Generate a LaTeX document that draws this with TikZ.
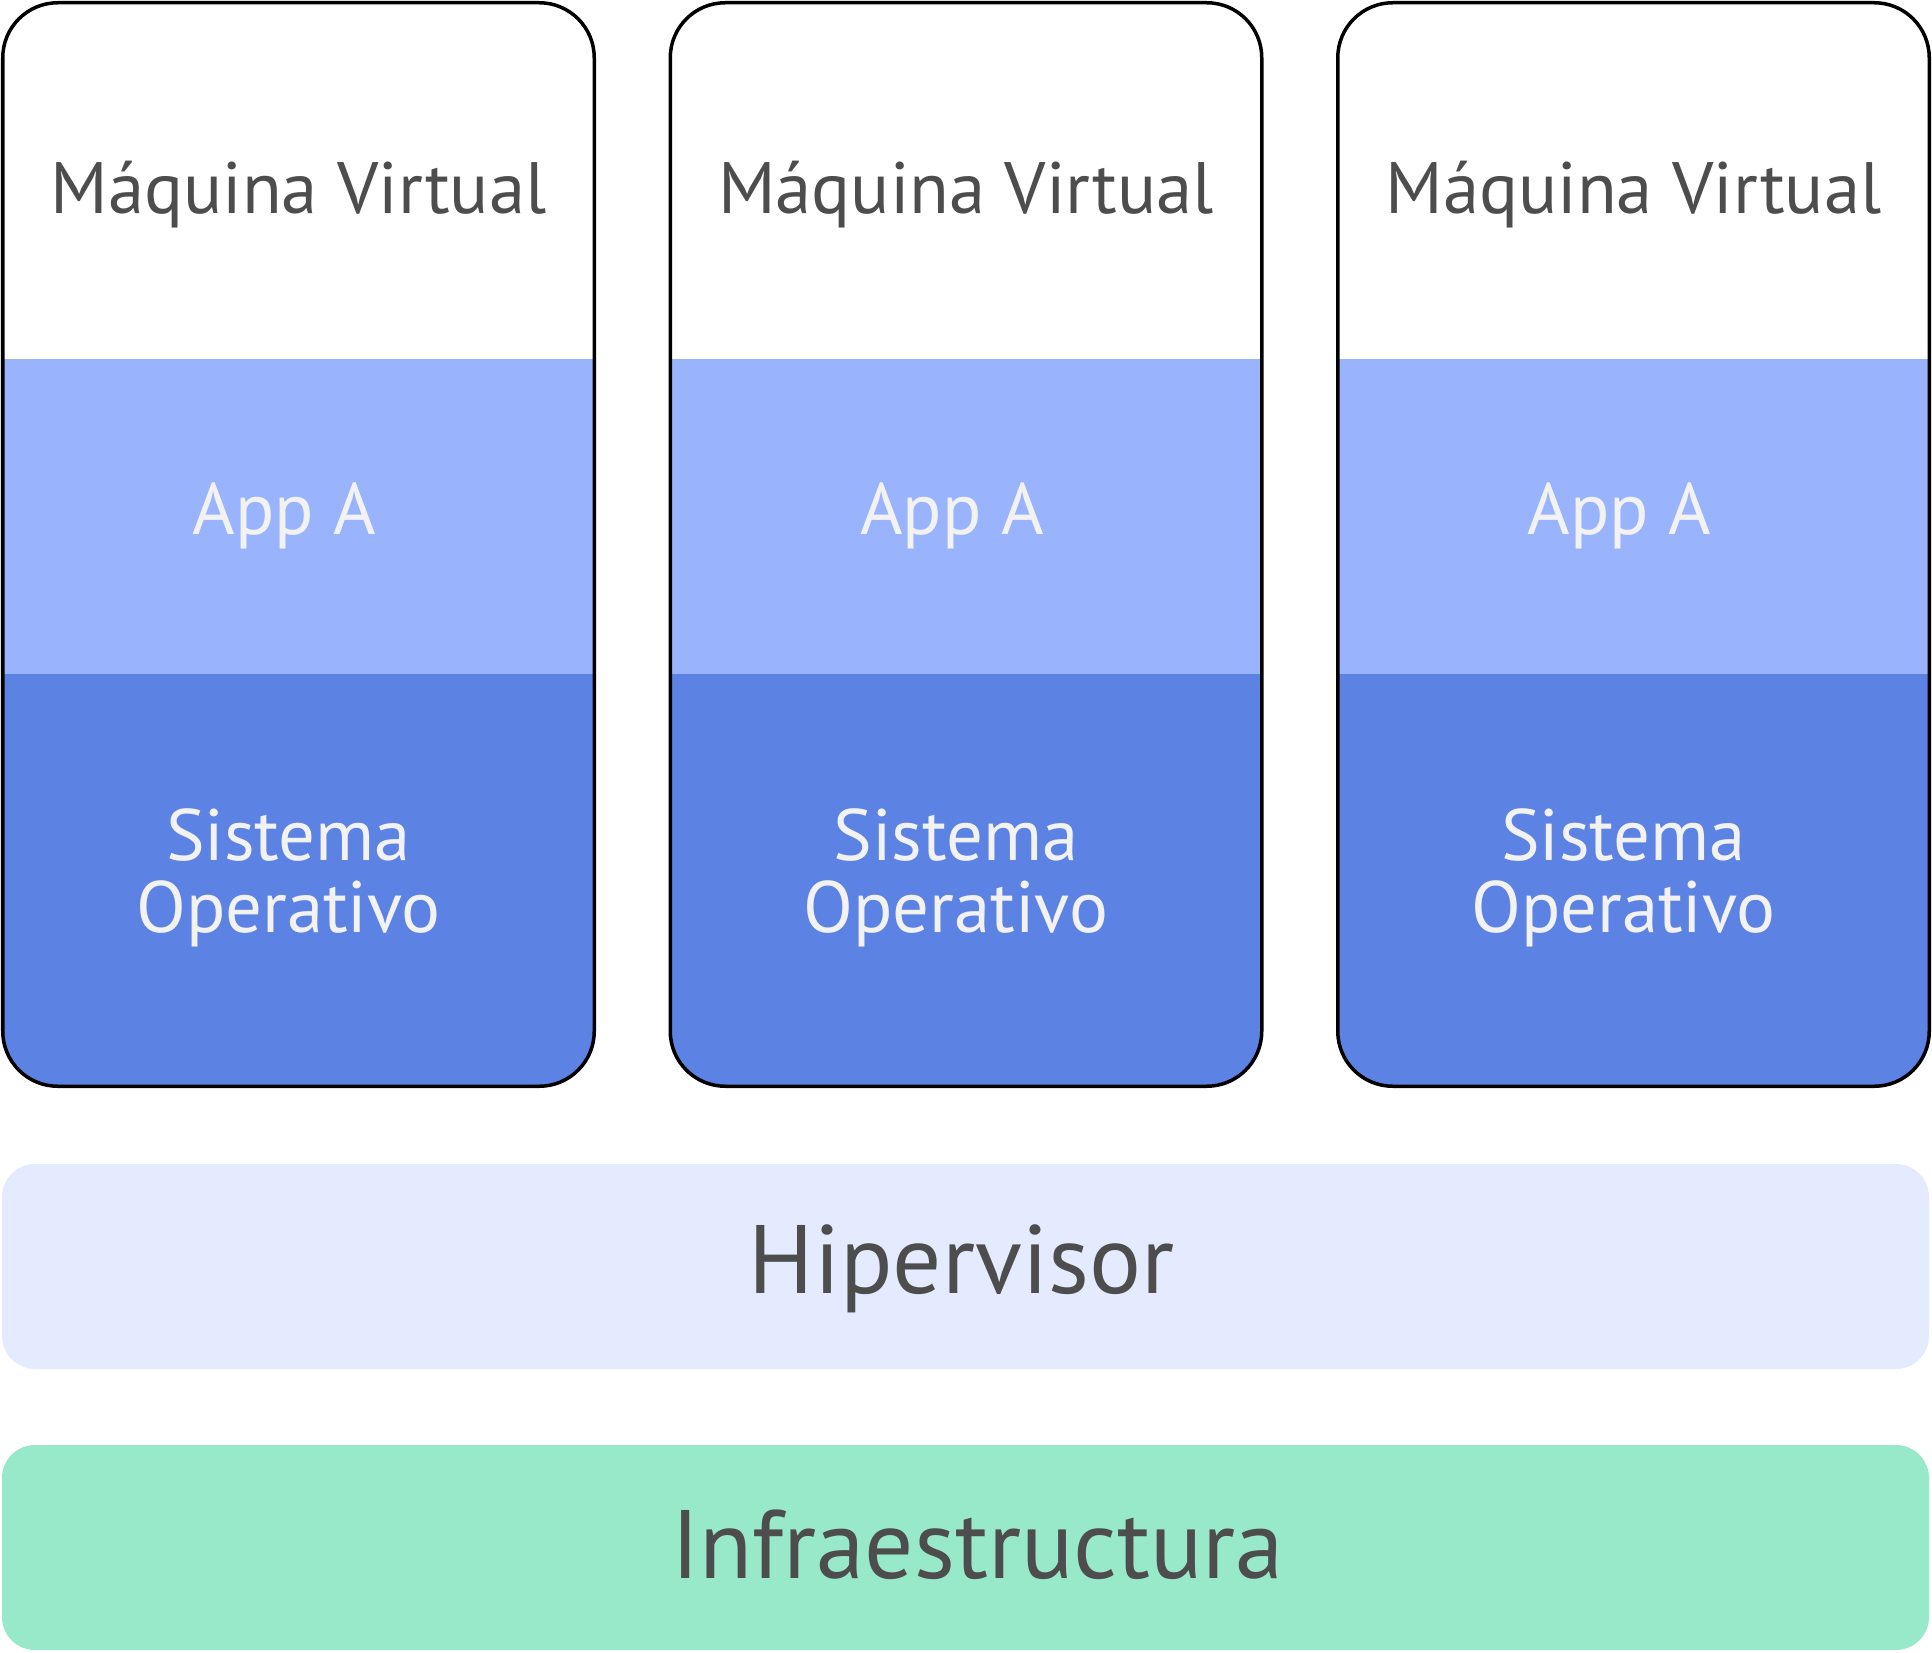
\documentclass[tikz,border=0pt]{standalone}
\usepackage{fontspec}
\setmainfont{PT Sans}
\usetikzlibrary{positioning}
\usetikzlibrary{calc}

\definecolor{txtgrey}{HTML}{4D4D4D}
\definecolor{txtwhite}{HTML}{F2F2F2}
\definecolor{appblue}{HTML}{99B4FD}
\definecolor{osblue}{HTML}{5C82E4}
\definecolor{hipfill}{HTML}{E4EBFE}
\definecolor{infrafill}{HTML}{98E8CA}

\begin{document}
\begin{tikzpicture}[
        band/.style={inner sep=0pt, outer sep=0pt, minimum width=295.75pt},
        vmtop/.style={band, minimum height=178.125pt},
        appband/.style={band, fill=appblue, minimum height=157.5pt},
        osband/.style={band, fill=osblue, minimum height=206.125pt},
        layer/.style={inner sep=0pt, outer sep=0pt, minimum width=963.5pt, minimum height=102.5pt},
        vmframe/.style={draw=black, line width=1.75pt, rounded corners=27.5pt},
        greytext/.style={text=txtgrey, inner sep=0pt, font=\fontsize{36.4}{36}\selectfont},
        whitetext/.style={text=txtwhite, inner sep=0pt, align=center, font=\fontsize{36.4}{36}\selectfont},
        bigtext/.style={text=txtgrey, inner sep=0pt, font=\fontsize{48.6}{50}\selectfont}]
        \useasboundingbox (0,0) rectangle (966pt,-826.5pt);

        % maquinas virtuales
        \begin{scope}
            \clip[rounded corners=27.5pt] (1.375pt,-1.375pt) rectangle (297.125pt,-543.125pt);
            \node[vmtop, anchor=north west] (mv_1) at (1.375pt,-1.375pt) {};
            \node[appband, below=0pt of mv_1] (app_1) {};
            \node[osband, below=0pt of app_1] (so_1) {};
        \end{scope}
        \begin{scope}
            \clip[rounded corners=27.5pt] (335.125pt,-1.375pt) rectangle (630.875pt,-543.125pt);
            \node[vmtop, right=38pt of mv_1] (mv_2) {};
            \node[appband, below=0pt of mv_2] (app_2) {};
            \node[osband, below=0pt of app_2] (so_2) {};
        \end{scope}
        \begin{scope}
            \clip[rounded corners=27.5pt] (668.875pt,-1.375pt) rectangle (964.625pt,-543.125pt);
            \node[vmtop, right=38pt of mv_2] (mv_3) {};
            \node[appband, below=0pt of mv_3] (app_3) {};
            \node[osband, below=0pt of app_3] (so_3) {};
        \end{scope}

        \draw[vmframe] (mv_1.north west) rectangle (so_1.south east);
        \draw[vmframe] (mv_2.north west) rectangle (so_2.south east);
        \draw[vmframe] (mv_3.north west) rectangle (so_3.south east);

        \node[greytext, anchor=base] (t_mv1) at ([yshift=-16.5pt]mv_1.center) {Máquina Virtual};
        \node[greytext, anchor=base] (t_mv2) at ([yshift=-16.5pt]mv_2.center) {Máquina Virtual};
        \node[greytext, anchor=base] (t_mv3) at ([yshift=-16.5pt]mv_3.center) {Máquina Virtual};

        \node[whitetext, anchor=base] (t_app1) at ([xshift=-7pt, yshift=-8.75pt]app_1.center) {App A};
        \node[whitetext, anchor=base] (t_app2) at ([xshift=-7pt, yshift=-8.75pt]app_2.center) {App A};
        \node[whitetext, anchor=base] (t_app3) at ([xshift=-7pt, yshift=-8.75pt]app_3.center) {App A};

        \node[whitetext, anchor=base] (t_so1) at ([xshift=-5pt, yshift=-26pt]so_1.center) {Sistema\\Operativo};
        \node[whitetext, anchor=base] (t_so2) at ([xshift=-5pt, yshift=-26pt]so_2.center) {Sistema\\Operativo};
        \node[whitetext, anchor=base] (t_so3) at ([xshift=-5pt, yshift=-26pt]so_3.center) {Sistema\\Operativo};

        % capas inferiores
        \node[layer, fill=hipfill, rounded corners=16.5pt, anchor=north west] (hip) at (1pt,-582pt) {};
        \node[layer, fill=infrafill, rounded corners=16.5pt, below=38pt of hip] (infra) {};

        \node[bigtext, anchor=base] (t_hip) at ([xshift=-2pt, yshift=-13.25pt]hip.center) {Hipervisor};
        \node[bigtext, anchor=base] (t_infra) at ([xshift=6pt, yshift=-15.25pt]infra.center) {Infraestructura};

    \end{tikzpicture}
\end{document}
